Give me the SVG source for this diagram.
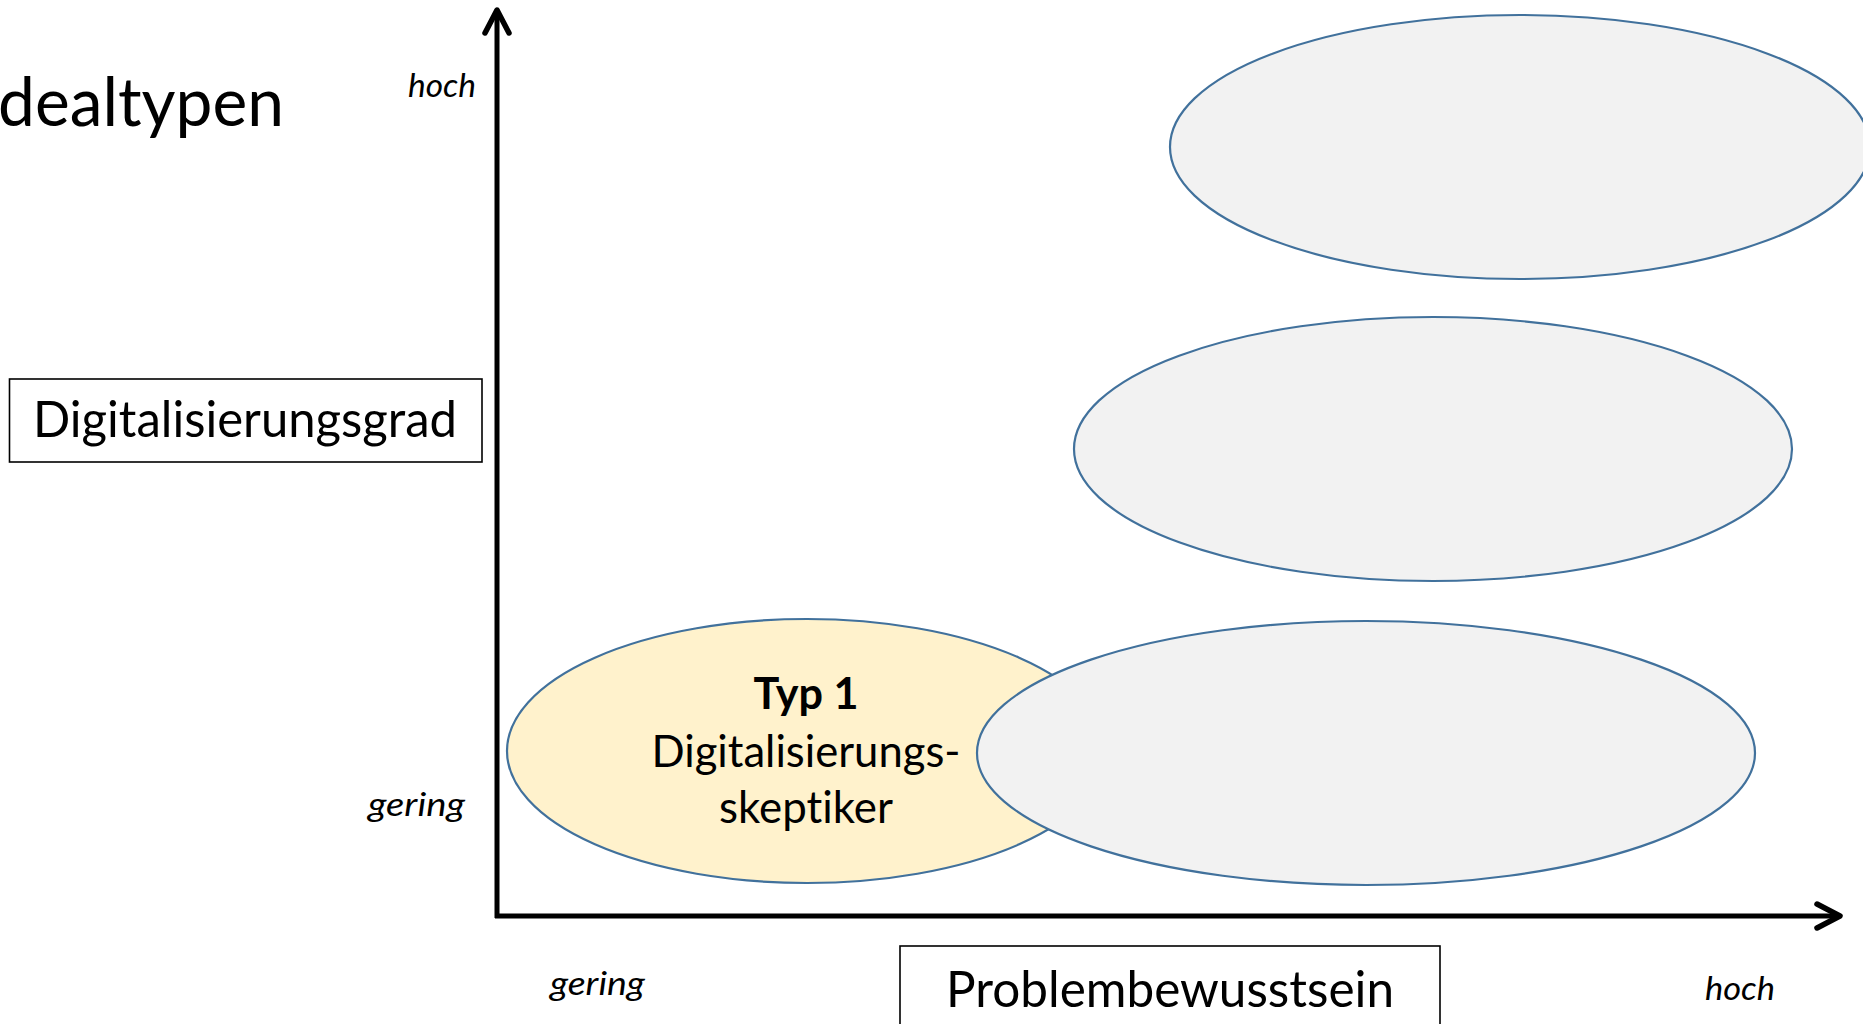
<svg xmlns="http://www.w3.org/2000/svg" width="1863" height="1024" viewBox="0 0 1863 1024">
  <defs>
    <style>
      .txt { font-family: "Lato", "Carlito", "Liberation Sans", sans-serif; fill: #000; font-variant-ligatures: none; font-feature-settings: "liga" 0, "clig" 0, "dlig" 0; }
      .ital { font-style: italic; }
      .bold { font-weight: bold; }
      .box { fill: #fff; stroke: #000; stroke-width: 1.6; }
      .ell { stroke: #41719C; stroke-width: 2.2; }
      .grey { fill: #F2F2F2; }
      .yellow { fill: #FFF2CC; }
      .axis { stroke: #000; stroke-width: 5; fill: none; }
    </style>
    <marker id="chevron" markerUnits="userSpaceOnUse" viewBox="-32 -20 40 40" markerWidth="40" markerHeight="40" refX="0" refY="0" orient="auto">
      <path d="M-23,-12 L0,0 L-23,12" fill="none" stroke="#000" stroke-width="5.5" stroke-linecap="round" stroke-linejoin="round"/>
    </marker>
  </defs>

  <rect width="1863" height="1024" fill="#fff"/>

  <!-- heading -->
  <text class="txt" x="-2" y="126" font-size="68" textLength="286" lengthAdjust="spacingAndGlyphs">dealtypen</text>

  <!-- axis scale labels -->
  <g id="scale-labels">
    <text class="txt ital" x="408" y="97" font-size="33" textLength="68" lengthAdjust="spacingAndGlyphs">hoch</text>
    <text class="txt ital" x="368" y="816" font-size="33" textLength="97" lengthAdjust="spacingAndGlyphs">gering</text>
    <text class="txt ital" x="550" y="995" font-size="33" textLength="95" lengthAdjust="spacingAndGlyphs">gering</text>
    <text class="txt ital" x="1705" y="1000" font-size="33" textLength="70" lengthAdjust="spacingAndGlyphs">hoch</text>
  </g>

  <!-- axis titles -->
  <g id="label-digitalisierungsgrad">
    <rect class="box" x="9.5" y="379" width="472.5" height="83"/>
    <text class="txt" x="33" y="437" font-size="50" textLength="424" lengthAdjust="spacingAndGlyphs">Digitalisierungsgrad</text>
  </g>
  <g id="label-problembewusstsein">
    <rect class="box" x="900" y="946" width="540" height="100"/>
    <text class="txt" x="946" y="1007" font-size="50" textLength="448" lengthAdjust="spacingAndGlyphs">Problembewusstsein</text>
  </g>

  <!-- type ellipses -->
  <g id="typ1">
    <ellipse class="ell yellow" cx="807" cy="751" rx="300" ry="132"/>
    <text class="txt bold" x="806" y="709" font-size="44" text-anchor="middle" textLength="105" lengthAdjust="spacingAndGlyphs">Typ 1</text>
    <text class="txt" x="806" y="767" font-size="44" text-anchor="middle" textLength="309" lengthAdjust="spacingAndGlyphs">Digitalisierungs-</text>
    <text class="txt" x="806" y="823" font-size="44" text-anchor="middle" textLength="174" lengthAdjust="spacingAndGlyphs">skeptiker</text>
  </g>
  <g id="typ2">
    <ellipse class="ell grey" cx="1366" cy="753" rx="389" ry="132"/>
  </g>
  <g id="typ3">
    <ellipse class="ell grey" cx="1433" cy="449" rx="359" ry="132"/>
  </g>
  <g id="typ4">
    <ellipse class="ell grey" cx="1520" cy="147" rx="350" ry="132"/>
  </g>

  <!-- axes -->
  <g id="connectors">
    <line class="axis" x1="497" y1="918" x2="497" y2="10" marker-end="url(#chevron)"/>
    <line class="axis" x1="495" y1="916" x2="1840" y2="916" marker-end="url(#chevron)"/>
  </g>
</svg>
